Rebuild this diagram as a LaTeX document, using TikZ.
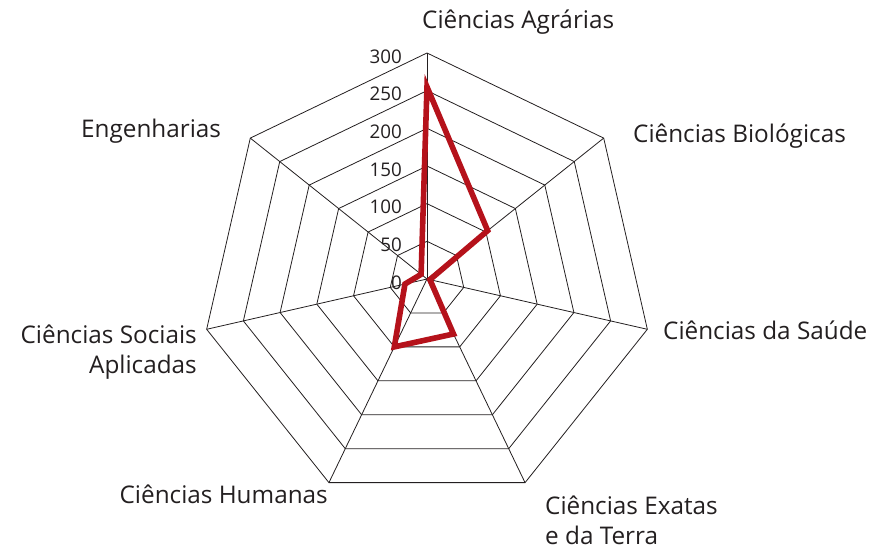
\documentclass[tikz,border=0pt]{standalone}
\usepackage{fontspec}
\setmainfont{Open Sans}
\usepackage{tikz}
\definecolor{radarred}{HTML}{B5121B}
\definecolor{inkgray}{HTML}{231F20}

\begin{document}
\begin{tikzpicture}[x=1pt,y=1pt,
  grid/.style={line width=0.8pt,draw=inkgray},
  serie/.style={line width=5.6pt,draw=radarred},
  area/.style={font=\fontsize{24.3}{29.5}\selectfont,text=inkgray,inner sep=0pt},
  tick/.style={font=\fontsize{18.8}{20}\selectfont,text=inkgray,inner sep=0pt,anchor=base east}]
\useasboundingbox (-427,-271) rectangle (448,279);
\coordinate (o) at (0,0);
% rings, 50 per step
\foreach \r in {1,...,6}
  \draw[grid] (90:37.67*\r) \foreach \a in {1,...,6} { -- (90-51.4286*\a:37.67*\r)} -- cycle;
% axes
\foreach \a in {0,...,6}
  \draw[grid] (o) -- (90-51.4286*\a:226) coordinate (v\a);
% scale
\foreach \v in {0,50,...,300}
  \node[tick] (t\v) at (-25,0.7533*\v-10) {\v};
% values
\foreach \n/\v in {0/255,1/103,2/4,3/81,4/100,5/30,6/10}
  \coordinate (d\n) at ({90-51.4286*\n}:{0.7533*\v});
\draw[serie] (d0) -- (d1) -- (d2) -- (d3) -- (d4) -- (d5) -- (d6) -- cycle;
% area names
\node[area,anchor=base west] (agrarias) at (-5,251) {Ciências Agrárias};
\node[area,anchor=base west] (biologicas) at (206,137) {Ciências Biológicas};
\node[area,anchor=base west] (saude) at (236,-60) {Ciências da Saúde};
\node[area,anchor=base west,align=left] (exatas) at (118,-265) {Ciências Exatas\\e da Terra};
\node[area,anchor=base east] (humanas) at (-99,-224) {Ciências Humanas};
\node[area,anchor=base east,align=right] (sociais) at (-230,-94) {Ciências Sociais\\Aplicadas};
\node[area,anchor=base west] (engenharias) at (-346,142) {Engenharias};
\end{tikzpicture}
\end{document}
